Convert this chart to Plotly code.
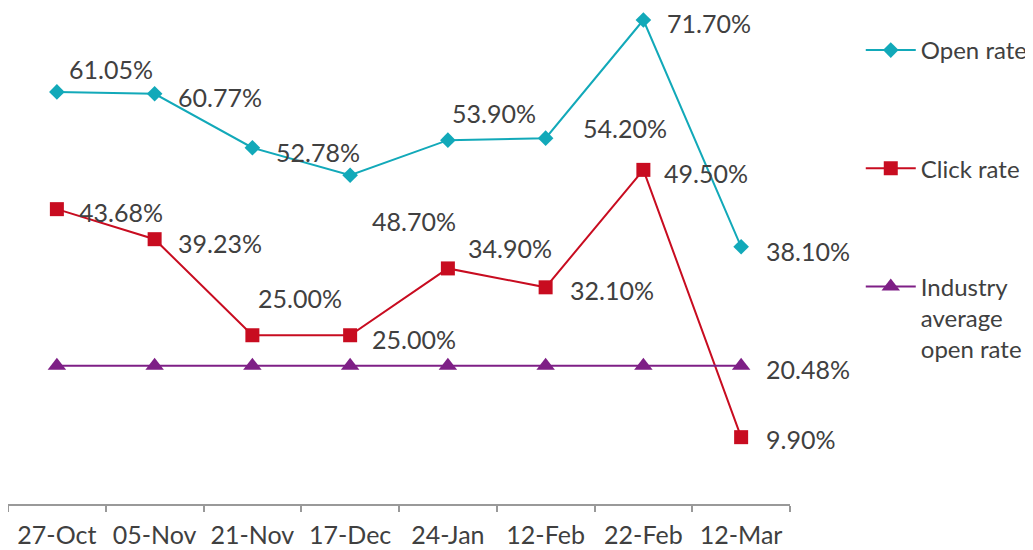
import plotly.graph_objects as go

categories = ["27-Oct", "05-Nov", "21-Nov", "17-Dec", "24-Jan", "12-Feb", "22-Feb", "12-Mar"]
open_rate = [61.05, 60.77, 52.78, 48.70, 53.90, 54.20, 71.70, 38.10]
click_rate = [43.68, 39.23, 25.00, 25.00, 34.90, 32.10, 49.50, 9.90]
industry_avg = [20.48, 20.48, 20.48, 20.48, 20.48, 20.48, 20.48, 20.48]

# label offsets in pixels (dx, dy) relative to each point
open_offsets = [(10, 23), (21, -3), (22, -4), (20, -46), (2, 27), (35, 10), (22, -3), (23, -4)]
click_offsets = [(20, -3), (21, -4), (4, 37), (20, -4), (18, 20), (22, -3), (19, -3), (23, -2)]
industry_offsets = {7: (23, -3)}

FONT = "Lato"
TXT = "#404040"
TEAL = "#12A9B9"
RED = "#C80C20"
PURPLE = "#7E1F86"

fig = go.Figure()
fig.add_trace(go.Scatter(x=categories, y=open_rate, name="Open rate", mode="lines+markers",
                         line=dict(color=TEAL, width=2),
                         marker=dict(symbol="diamond", size=12, color=TEAL),
                         legendgroup="a"))
fig.add_trace(go.Scatter(x=categories, y=click_rate, name="Click rate", mode="lines+markers",
                         line=dict(color=RED, width=2),
                         marker=dict(symbol="square", size=14, color=RED),
                         legendgroup="b"))
fig.add_trace(go.Scatter(x=categories, y=industry_avg, name="Industry<br>average<br>open rate",
                         mode="lines+markers",
                         line=dict(color=PURPLE, width=2),
                         marker=dict(symbol="triangle-up", size=16, color=PURPLE),
                         legendgroup="c"))

annotations = []
def add_labels(values, offsets):
    for i, (cat, v) in enumerate(zip(categories, values)):
        if isinstance(offsets, dict):
            if i not in offsets:
                continue
            dx, dy = offsets[i]
        else:
            dx, dy = offsets[i]
        annotations.append(dict(x=cat, y=v, xref="x", yref="y", text=f"{v:.2f}%",
                                showarrow=False, xanchor="left", yanchor="middle",
                                xshift=dx, yshift=dy,
                                font=dict(family=FONT, size=25, color=TXT)))

add_labels(open_rate, open_offsets)
add_labels(click_rate, click_offsets)
add_labels(industry_avg, industry_offsets)

fig.update_layout(
    width=1025, height=542,
    margin=dict(l=0, r=243, t=0, b=46),
    paper_bgcolor="white", plot_bgcolor="white",
    font=dict(family=FONT, size=25, color=TXT),
    showlegend=True,
    legend=dict(x=1.0905, y=0.9597, xanchor="left", yanchor="top",
                tracegroupgap=84, valign="top",
                font=dict(family=FONT, size=24, color=TXT),
                bgcolor="rgba(0,0,0,0)", itemwidth=50),
    annotations=annotations,
    xaxis=dict(type="category", range=[-0.5, 7.5], showgrid=False, zeroline=False,
               showline=True, linecolor="#999999", linewidth=2, automargin=False,
               ticks="outside", tickson="boundaries", ticklen=6, tickcolor="#999999",
               tickwidth=2, ticklabelstandoff=8,
               tickfont=dict(family=FONT, size=25, color=TXT)),
    yaxis=dict(range=[0, 73.48], visible=False, showgrid=False, zeroline=False,
               automargin=False),
)

fig.write_html("out.html", config={"displayModeBar": False})
